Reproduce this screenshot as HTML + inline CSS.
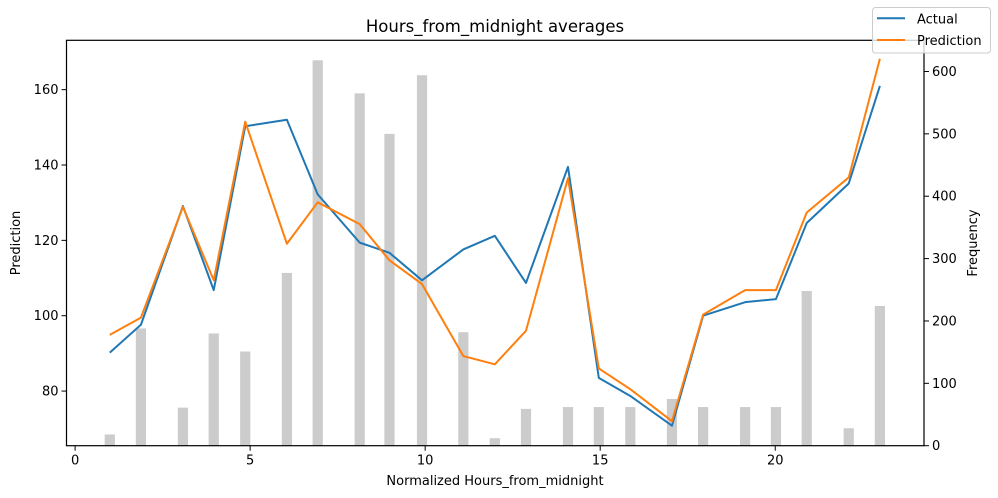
<!DOCTYPE html>
<html><head><meta charset="utf-8"><style>
html,body{margin:0;padding:0;background:#fff;}
svg{display:block;font-family:"DejaVu Sans","Liberation Sans",sans-serif;}
</style></head><body>
<svg id="chart" width="998" height="498" viewBox="0 0 998 498" xmlns="http://www.w3.org/2000/svg">
<text x="495" y="32" font-size="16.5" text-anchor="middle" fill="#000">Hours_from_midnight averages</text>
<g id="bars"></g>
<g id="lines"></g>
<g id="axes"></g>
<text x="495" y="485" font-size="13" text-anchor="middle">Normalized Hours_from_midnight</text>
<text transform="translate(20,243) rotate(-90)" font-size="13" text-anchor="middle">Prediction</text>
<text transform="translate(977,243) rotate(-90)" font-size="13" text-anchor="middle">Frequency</text>
<g>
<rect x="872.5" y="7.5" width="118" height="45.5" rx="3" fill="#fff" fill-opacity="0.8" stroke="#ccc"/>
<line x1="877" y1="18.3" x2="905" y2="18.3" stroke="#1f77b4" stroke-width="2"/>
<text x="917" y="23.5" font-size="13">Actual</text>
<line x1="877" y1="40" x2="905" y2="40" stroke="#ff7f0e" stroke-width="2"/>
<text x="917" y="45" font-size="13">Prediction</text>
</g>
</svg>
<script>
const xs = [0.99,1.88,3.08,3.96,4.86,6.05,6.93,8.13,8.98,9.91,11.09,11.99,12.88,14.08,14.96,15.86,17.05,17.94,19.14,20.02,20.9,22.1,22.99];
const actual = [90.2,97.6,129.1,106.8,150.3,152.0,132.2,119.4,116.7,109.4,117.6,121.2,108.7,139.5,83.5,78.7,70.8,100.0,103.6,104.4,124.6,135.1,161.0];
const prediction = [94.9,99.5,128.9,109.4,151.5,119.1,130.1,124.3,114.7,108.4,89.3,87.1,96.0,136.5,86.0,80.5,72.0,100.3,106.8,106.8,127.4,136.7,168.2];
const frequency = [18,188,61,180,151,277,618,565,500,594,182,12,59,62,62,62,75,62,62,62,248,28,224];
const xTicks = [0,5,10,15,20];
const yTicks = [80,100,120,140,160];
const y2Ticks = [0,100,200,300,400,500,600];

const L=66.5,R=924,T=40.3,B=445.7;
const X0=-0.246,X1=24.25,Y0=65.5,Y1=173.1,F0=0,F1=650;
const sx=v=>L+(v-X0)/(X1-X0)*(R-L);
const sy=v=>B-(v-Y0)/(Y1-Y0)*(B-T);
const sf=v=>B-(v-F0)/(F1-F0)*(B-T);
const NS='http://www.w3.org/2000/svg';
function mk(tag,attrs,parent){const e=document.createElementNS(NS,tag);for(const k in attrs)e.setAttribute(k,attrs[k]);parent.appendChild(e);return e;}
const bars=document.getElementById('bars'),lines=document.getElementById('lines'),axes=document.getElementById('axes');
const bw=10.2;
frequency.forEach((f,i)=>{
  const r=mk('rect',{x:sx(xs[i])-bw/2,y:sf(f),width:bw,height:B-sf(f),fill:'#cccccc'},bars);
  
  
});
function drawLine(vals,color,name){
  const p=mk('polyline',{points:vals.map((v,i)=>sx(xs[i])+','+sy(v)).join(' '),fill:'none',stroke:color,'stroke-width':2,'stroke-linejoin':'round'},lines);
  
  
}
drawLine(actual,'#1f77b4','actual-line');
drawLine(prediction,'#ff7f0e','prediction-line');
const fr=mk('rect',{x:L,y:T,width:R-L,height:B-T,fill:'none',stroke:'#000','stroke-width':1.2},axes);


xTicks.forEach(t=>{
  const x=sx(t);
  mk('line',{x1:x,y1:B,x2:x,y2:B+5,stroke:'#000'},axes);
  const tx=mk('text',{x:x,y:B+19,'font-size':13,'text-anchor':'middle'},axes);tx.textContent=t;
  
  
});
yTicks.forEach(t=>{
  const y=sy(t);
  mk('line',{x1:L-5,y1:y,x2:L,y2:y,stroke:'#000'},axes);
  const tx=mk('text',{x:L-8,y:y+4.5,'font-size':13,'text-anchor':'end'},axes);tx.textContent=t;
  
  
});
y2Ticks.forEach(t=>{
  const y=sf(t);
  mk('line',{x1:R,y1:y,x2:R+5,y2:y,stroke:'#000'},axes);
  const tx=mk('text',{x:R+8,y:y+4.5,'font-size':13,'text-anchor':'start'},axes);tx.textContent=t;
  
  
});
</script>
</body></html>
